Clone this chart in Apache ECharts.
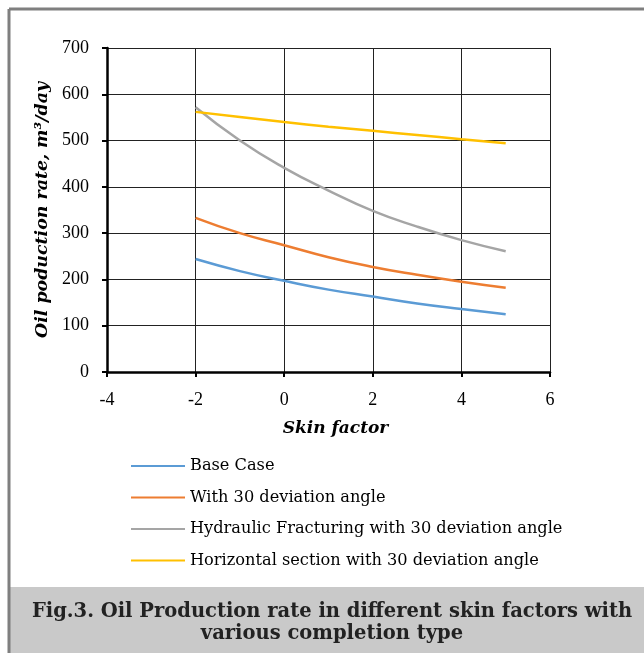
<!DOCTYPE html>
<html><head><meta charset="utf-8">
<script src="https://cdn.jsdelivr.net/npm/echarts@6/dist/echarts.min.js"></script>
<style>html,body{margin:0;padding:0;background:#fff}#c{width:644px;height:653px}</style>
</head><body><div id="c"></div>
<script>
const skin = [-2, -1, 0, 1, 2, 3, 4, 5];
const baseCase = [244, 218, 197, 178, 163, 148, 136, 125];
const dev30 = [333, 300, 274, 248, 227, 210, 195, 182];
const hydFrac = [572, 500, 441, 392, 348, 314, 285, 261];
const horiz = [562, 551, 540, 530, 521, 512, 503, 494];
const seriesNames = ['Base Case', 'With 30 deviation angle', 'Hydraulic Fracturing with 30 deviation angle', 'Horizontal section with 30 deviation angle'];
const seriesData = [baseCase, dev30, hydFrac, horiz];
const colors = ['#5B9BD5', '#ED7D31', '#A5A5A5', '#FFC000'];
const tickFont = '"Liberation Serif", serif';
const font = '"DejaVu Serif", serif';

const chart = echarts.init(document.getElementById('c'), null, {renderer: 'canvas'});
chart.setOption({
  animation: false,
  color: colors,
  grid: {left: 107, right: 94, top: 48, bottom: 281, containLabel: false},
  xAxis: {
    type: 'value', min: -4, max: 6, interval: 2,
    name: 'Skin factor', nameLocation: 'middle', nameGap: 48,
    nameTextStyle: {fontFamily: font, fontSize: 17, fontStyle: 'italic', fontWeight: 'bold', color: '#000', padding: [0, 0, 0, 14]},
    axisLine: {show: true, onZero: false, lineStyle: {color: '#000', width: 2.5}},
    axisTick: {show: true, inside: false, length: 5, lineStyle: {color: '#000', width: 2}},
    axisLabel: {fontFamily: tickFont, fontSize: 18, color: '#000', margin: 19},
    splitLine: {show: true, lineStyle: {color: '#222', width: 1}}
  },
  yAxis: {
    type: 'value', min: 0, max: 700, interval: 100,
    name: 'Oil poduction rate, m³/day', nameLocation: 'middle', nameGap: 56, nameRotate: 90,
    nameTextStyle: {fontFamily: font, fontSize: 17.4, fontStyle: 'italic', fontWeight: 'bold', color: '#000'},
    axisLine: {show: true, onZero: false, lineStyle: {color: '#000', width: 2.5}},
    axisTick: {show: true, inside: false, length: 5, lineStyle: {color: '#000', width: 2}},
    axisLabel: {fontFamily: tickFont, fontSize: 18, color: '#000', margin: 18},
    splitLine: {show: true, lineStyle: {color: '#222', width: 1}}
  },
  legend: {
    orient: 'vertical', left: 126, top: 451,
    icon: 'rect', itemWidth: 54, itemHeight: 2, itemGap: 11.5,
    textStyle: {fontFamily: font, fontSize: 16.2, color: '#000', lineHeight: 20, padding: [0, 0, 0, 0]},
    data: seriesNames
  },
  series: seriesNames.map((n, i) => ({
    name: n, type: 'line', smooth: true, symbol: 'none', showSymbol: false,
    lineStyle: {width: 2.5, color: colors[i]},
    data: skin.map((x, j) => [x, seriesData[i][j]])
  })),
  graphic: [
    {type: 'rect', shape: {x: 9, y: 587, width: 640, height: 70}, style: {fill: '#c9c9c9'}, z: -10},
    {type: 'line', shape: {x1: 9, y1: 9, x2: 644, y2: 9}, style: {stroke: '#7f7f7f', lineWidth: 3}, z: 10},
    {type: 'line', shape: {x1: 9, y1: 9, x2: 9, y2: 653}, style: {stroke: '#7f7f7f', lineWidth: 3}, z: 10},
    {type: 'text', x: 332, y: 601, style: {
      text: 'Fig.3. Oil Production rate in different skin factors with\nvarious completion type',
      font: 'bold 19.5px ' + font, fill: '#222', textAlign: 'center', lineHeight: 22
    }}
  ]
});
</script></body></html>
